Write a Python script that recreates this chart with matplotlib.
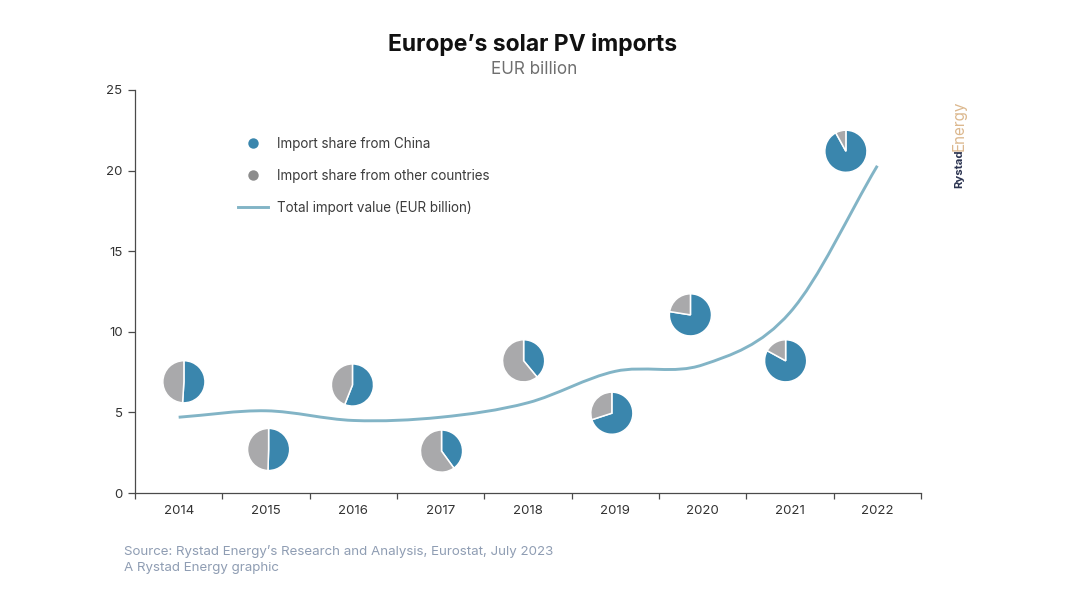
import matplotlib
matplotlib.use("Agg")
import matplotlib.pyplot as plt
from matplotlib.path import Path
from matplotlib.patches import PathPatch
from matplotlib.lines import Line2D

years = [2014, 2015, 2016, 2017, 2018, 2019, 2020, 2021, 2022]
total_import = [4.7, 5.1, 4.5, 4.7, 5.6, 7.55, 7.95, 11.2, 20.3]
china_share = [51, 50.5, 56, 40, 39, 70, 77.5, 83, 92]
other_share = [49, 49.5, 44, 60, 61, 30, 22.5, 17, 8]
pie_x = [0.06, 1.03, 1.99, 3.01, 3.95, 4.96, 5.86, 6.95, 7.64]
pie_y = [6.9, 2.7, 6.7, 2.6, 8.2, 4.95, 11.05, 8.2, 21.2]

BLUE = "#3a86ad"
GREY = "#a9a9ab"
LINE = "#82b4c6"
AXIS = "#4a4a4a"
FONT = "Inter"

plt.rcParams["font.family"] = FONT
fig = plt.figure(figsize=(10.67, 6), dpi=100)
W, H = 1067, 600
ax = fig.add_axes([135 / W, 1 - 493 / H, (921 - 135) / W, (493 - 90) / H])
ax.set_xlim(-0.5, 8.5)
ax.set_ylim(0, 25)

# smooth line through the yearly values (Catmull-Rom Bezier segments)
xs = list(range(len(years)))
n = len(xs)
verts = [(xs[0], total_import[0])]
codes = [Path.MOVETO]
for i in range(n - 1):
    y1, y2 = total_import[i], total_import[i + 1]
    y0 = total_import[i - 1] if i > 0 else 2 * y1 - y2
    y3 = total_import[i + 2] if i + 2 < n else 2 * y2 - y1
    verts += [(xs[i] + 1 / 3, y1 + (y2 - y0) / 6),
              (xs[i + 1] - 1 / 3, y2 - (y3 - y1) / 6),
              (xs[i + 1], y2)]
    codes += [Path.CURVE4] * 3
ax.add_patch(PathPatch(Path(verts, codes), fill=False, edgecolor=LINE, lw=2.1, capstyle="butt"))

# pies placed in data coordinates
pw, ph = 43 / ((921 - 135) / 9), 43 / ((493 - 90) / 25)
for px, py, c, o in zip(pie_x, pie_y, china_share, other_share):
    iax = ax.inset_axes([px - pw / 2, py - ph / 2, pw, ph], transform=ax.transData)
    iax.pie([c, o], colors=[BLUE, GREY], startangle=90, counterclock=False, radius=1.0,
            wedgeprops=dict(edgecolor="white", linewidth=1.1))
    iax.set_xlim(-1.02, 1.02)
    iax.set_ylim(-1.02, 1.02)
    iax.set_aspect("equal")

for s in ("top", "right"):
    ax.spines[s].set_visible(False)
for s in ("left", "bottom"):
    ax.spines[s].set_color(AXIS)
    ax.spines[s].set_linewidth(0.9)
ax.set_yticks([0, 5, 10, 15, 20, 25])
ax.set_xticks([i - 0.5 for i in range(10)])
ax.set_xticklabels([])
ax.set_xticks(xs, labels=[str(y) for y in years], minor=True)
ax.tick_params(axis="x", which="major", length=4, color=AXIS, width=0.9)
ax.tick_params(axis="x", which="minor", length=0, pad=9, labelsize=9.5, labelcolor="#333333")
ax.tick_params(axis="y", length=5, color=AXIS, width=0.9, labelsize=9.5, labelcolor="#333333", pad=4)

handles = [
    Line2D([], [], ls="", marker="o", ms=7.5, color=BLUE, mec="none"),
    Line2D([], [], ls="", marker="o", ms=7.5, color="#8c8c8c", mec="none"),
    Line2D([], [], color=LINE, lw=2.1),
]
labels = ["Import share from China", "Import share from other countries", "Total import value (EUR billion)"]
ax.legend(handles, labels, loc="upper left", bbox_to_anchor=((238 - 135) / 786, 1 - (137 - 90) / 403),
          frameon=False, fontsize=9.7, labelspacing=1.32, handlelength=2.2, handletextpad=0.73,
          borderpad=0, borderaxespad=0, labelcolor="#3c3c3c")

fig.text(533 / W, 1 - 45 / H, "Europe\u2019s solar PV imports", ha="center", va="center",
         fontsize=16.5, fontweight="bold", color="#111111")
fig.text(534 / W, 1 - 69 / H, "EUR billion", ha="center", va="center", fontsize=12.3, color="#6f6f6f")
fig.text(124 / W, 1 - 552 / H, "Source: Rystad Energy\u2019s Research and Analysis, Eurostat, July 2023",
         ha="left", va="center", fontsize=9.6, color="#8f9db3")
fig.text(124 / W, 1 - 568 / H, "A Rystad Energy graphic", ha="left", va="center", fontsize=9.6, color="#8f9db3")
fig.text(959 / W, 1 - 188 / H, "Rystad", rotation=90, ha="center", va="bottom", fontsize=8.2,
         fontweight="bold", color="#2b3350")
fig.text(959 / W, 1 - 151 / H, "Energy", rotation=90, ha="center", va="bottom", fontsize=11, color="#dcb88e")

fig.savefig("out.png", dpi=100)
